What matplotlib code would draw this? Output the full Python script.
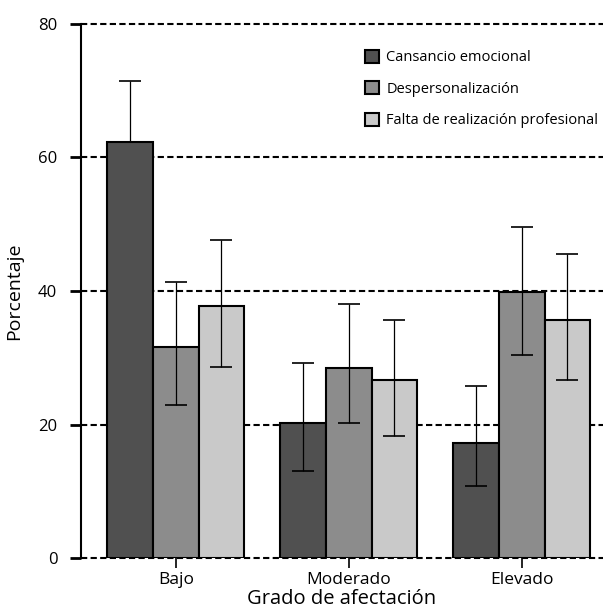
import matplotlib.pyplot as plt
import numpy as np

categories = ["Bajo", "Moderado", "Elevado"]
series = ["Cansancio emocional", "Despersonalización", "Falta de realización profesional"]
values = [
    [62.3, 20.3, 17.3],
    [31.6, 28.5, 39.8],
    [37.8, 26.7, 35.7],
]
# whisker ends (Bajo dark bar shows no lower whisker)
err_low = [
    [62.3, 13.1, 10.8],
    [22.9, 20.2, 30.4],
    [28.6, 18.3, 26.7],
]
err_high = [
    [71.5, 29.2, 25.7],
    [41.3, 38.0, 49.6],
    [47.6, 35.7, 45.5],
]
colors = ["#505050", "#8c8c8c", "#c9c9c9"]
yticks = [0, 20, 40, 60, 80]


def main():
    plt.rcParams["font.family"] = ["Open Sans", "DejaVu Sans"]
    fig = plt.figure(figsize=(6.03, 6.10), dpi=100)
    ax = fig.add_axes([0.1343, 0.0852, 0.8657, 0.8755])

    x = np.arange(len(categories))
    width = 0.264

    for yv in yticks:
        ax.axhline(yv, color="black", lw=1.5, ls=(0, (3, 1.6)), zorder=1,
                   clip_on=False)

    for i, name in enumerate(series):
        pos = x + (i - 1) * width
        vals = np.array(values[i])
        lo = vals - np.array(err_low[i])
        hi = np.array(err_high[i]) - vals
        ax.bar(pos, vals, width, color=colors[i], edgecolor="black",
               linewidth=1.5, label=name, zorder=2)
        ax.errorbar(pos, vals, yerr=[lo, hi], fmt="none", ecolor="black",
                    elinewidth=0.9, capsize=8, capthick=1.2, zorder=3)

    ax.set_xlim(-0.548, 2.47)
    ax.set_ylim(0, 80)
    ax.set_yticks(yticks)
    ax.set_xticks(x, categories)
    ax.tick_params(axis="y", length=8, width=2, labelsize=12, pad=9)
    ax.tick_params(axis="x", length=7, width=1.2, labelsize=12.5, pad=3)

    for s in ["top", "right", "bottom"]:
        ax.spines[s].set_visible(False)
    ax.spines["left"].set_linewidth(1.5)

    ax.set_ylabel("Porcentaje", fontsize=14, labelpad=11)
    ax.set_xlabel("Grado de afectación", fontsize=14.5, labelpad=1)

    ax.legend(loc="upper left", bbox_to_anchor=(0.532, 0.963), frameon=False,
              fontsize=10.5, labelspacing=1.1, handlelength=1.0,
              handleheight=1.0, handletextpad=0.5, borderaxespad=0)

    fig.savefig("out.png", dpi=100)


if __name__ == "__main__":
    main()
